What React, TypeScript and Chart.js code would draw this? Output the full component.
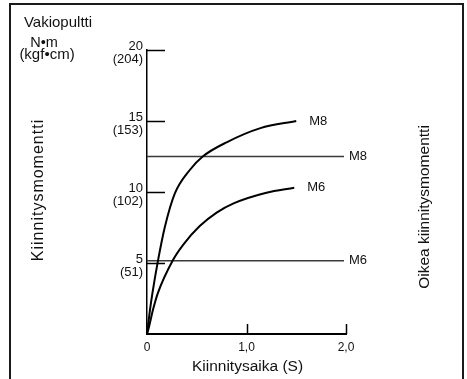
import React, { useEffect, useRef } from 'react';
import { Chart, registerables } from 'chart.js';
Chart.register(...registerables);

const FONT = '"Liberation Sans", Arial, Helvetica, sans-serif';

const m8Time = [0, 0.03, 0.055, 0.11, 0.18, 0.28, 0.43, 0.56, 0.8, 1.14, 1.5];
const m8Torque = [0, 1.7, 2.9, 5.15, 7.55, 9.9, 11.55, 12.5, 13.5, 14.5, 15];
const m6Time = [0, 0.02, 0.06, 0.11, 0.26, 0.365, 0.53, 0.7, 0.87, 1.2, 1.48];
const m6Torque = [0, 0.5, 1.7, 2.9, 5.2, 6.3, 7.6, 8.55, 9.2, 9.95, 10.3];
const refTime = [0, 1.98];
const m8Ref = [12.5, 12.5];
const m6Ref = [5.15, 5.15];
const yTickValues = [0, 5, 10, 15, 20];
const yTickKgf = ['', '(51)', '(102)', '(153)', '(204)'];
const xTickValues = [0, 1, 2];
const xTickLabels = ['0', '1,0', '2,0'];
const seriesNames = ['M8', 'M6', 'M8', 'M6'];

const texts = {
  header: 'Vakiopultti',
  unit1: 'N•m',
  unit2: '(kgf•cm)',
  yTitle: 'Kiinnitysmomentti',
  rightTitle: 'Oikea kiinnitysmomentti',
  xTitle: 'Kiinnitysaika (S)',
};

const pts = (xs: number[], ys: number[]) => xs.map((x, i) => ({ x, y: ys[i] }));

const decorPlugin = {
  id: 'decor',
  afterDraw(chart: any) {
    const { ctx, chartArea, scales } = chart;
    const xs = scales.x;
    const ys = scales.y;
    ctx.save();
    ctx.strokeStyle = '#1a1a1a';
    ctx.lineWidth = 2;
    ctx.beginPath();
    ctx.moveTo(10, 380);
    ctx.lineTo(10, 4);
    ctx.lineTo(463, 4);
    ctx.lineTo(463, 380);
    ctx.stroke();

    ctx.strokeStyle = '#000';
    ctx.lineWidth = 1.5;
    ctx.beginPath();
    yTickValues.forEach((v) => {
      if (v === 0) return;
      const y = Math.round(ys.getPixelForValue(v)) + 0.5;
      ctx.moveTo(chartArea.left, y);
      ctx.lineTo(chartArea.left + 18, y);
    });
    xTickValues.forEach((v) => {
      if (v === 0) return;
      const x = Math.round(xs.getPixelForValue(v)) + 0.5;
      ctx.moveTo(x, chartArea.bottom);
      ctx.lineTo(x, chartArea.bottom - 10);
    });
    ctx.stroke();

    ctx.fillStyle = '#111';
    ctx.textBaseline = 'middle';
    ctx.font = `13px ${FONT}`;
    ctx.textAlign = 'left';
    chart.data.datasets.forEach((ds: any, i: number) => {
      const last = ds.data[ds.data.length - 1];
      const px = xs.getPixelForValue(last.x);
      const py = ys.getPixelForValue(last.y);
      ctx.fillText(seriesNames[i], px + (i < 2 ? 13 : 5), py);
    });

    ctx.textAlign = 'center';
    ctx.font = `15px ${FONT}`;
    ctx.fillText(texts.header, 58, 23);
    ctx.font = `14.5px ${FONT}`;
    ctx.fillText(texts.unit1, 44, 43);
    ctx.font = `15px ${FONT}`;
    ctx.fillText(texts.unit2, 47, 55);

    ctx.font = `15.5px ${FONT}`;
    ctx.fillText(texts.xTitle, (chartArea.left + chartArea.right) / 2 + 1, 367);

    ctx.save();
    ctx.translate(39, (chartArea.top + chartArea.bottom) / 2 - 2);
    ctx.rotate(-Math.PI / 2);
    ctx.font = `16px ${FONT}`;
    (ctx as any).letterSpacing = '1px';
    ctx.fillText(texts.yTitle, 0, 0);
    ctx.restore();

    ctx.save();
    ctx.translate(425, 207);
    ctx.rotate(-Math.PI / 2);
    ctx.font = `15.5px ${FONT}`;
    ctx.fillText(texts.rightTitle, 0, 0);
    ctx.restore();

    ctx.restore();
  },
};

export default function App() {
  const ref = useRef<HTMLCanvasElement | null>(null);
  useEffect(() => {
    if (!ref.current) return;
    const curve = { borderColor: '#000', borderWidth: 2, pointRadius: 0, fill: false, cubicInterpolationMode: 'monotone' as const };
    const refLine = { borderColor: '#3a3a3a', borderWidth: 1.5, pointRadius: 0, fill: false, tension: 0 };
    const chart = new Chart(ref.current, {
      type: 'line',
      data: {
        datasets: [
          { label: seriesNames[0], data: pts(m8Time, m8Torque), ...curve },
          { label: seriesNames[1], data: pts(m6Time, m6Torque), ...curve },
          { label: seriesNames[2], data: pts(refTime, m8Ref), ...refLine },
          { label: seriesNames[3], data: pts(refTime, m6Ref), ...refLine },
        ],
      },
      options: {
        animation: false,
        responsive: false,
        maintainAspectRatio: false,
        layout: { padding: { left: 0, top: 50, right: 121, bottom: 0 } },
        plugins: { legend: { display: false }, tooltip: { enabled: false } },
        scales: {
          x: {
            type: 'linear',
            min: 0,
            max: 2,
            afterFit: (s: any) => { s.height = 45; },
            afterBuildTicks: (s: any) => { s.ticks = xTickValues.map((v) => ({ value: v })); },
            grid: { display: false, drawTicks: false },
            border: { display: true, color: '#000', width: 2 },
            ticks: {
              padding: 6,
              color: '#111',
              font: { family: FONT, size: 12 },
              maxRotation: 0,
              autoSkip: false,
              callback: (v: any) => xTickLabels[xTickValues.indexOf(Number(v))] ?? '',
            },
          },
          y: {
            type: 'linear',
            min: 0,
            max: 20,
            afterFit: (s: any) => { s.width = 147; },
            afterBuildTicks: (s: any) => { s.ticks = yTickValues.map((v) => ({ value: v })); },
            grid: { display: false, drawTicks: false },
            border: { display: true, color: '#000', width: 1.5 },
            ticks: {
              padding: 4,
              labelOffset: 3,
              color: '#111',
              font: { family: FONT, size: 13, lineHeight: 1.0 },
              autoSkip: false,
              callback: (v: any) => {
                const i = yTickValues.indexOf(Number(v));
                if (i <= 0) return '';
                return [String(yTickValues[i]), yTickKgf[i]];
              },
            },
          },
        },
      },
      plugins: [decorPlugin],
    });
    return () => chart.destroy();
  }, []);
  return (
    <div style={{ position: 'fixed', left: 0, top: 0, width: 467, height: 379, background: '#fff' }}>
      <canvas ref={ref} width={467} height={379} style={{ display: 'block', width: 467, height: 379 }} />
    </div>
  );
}
